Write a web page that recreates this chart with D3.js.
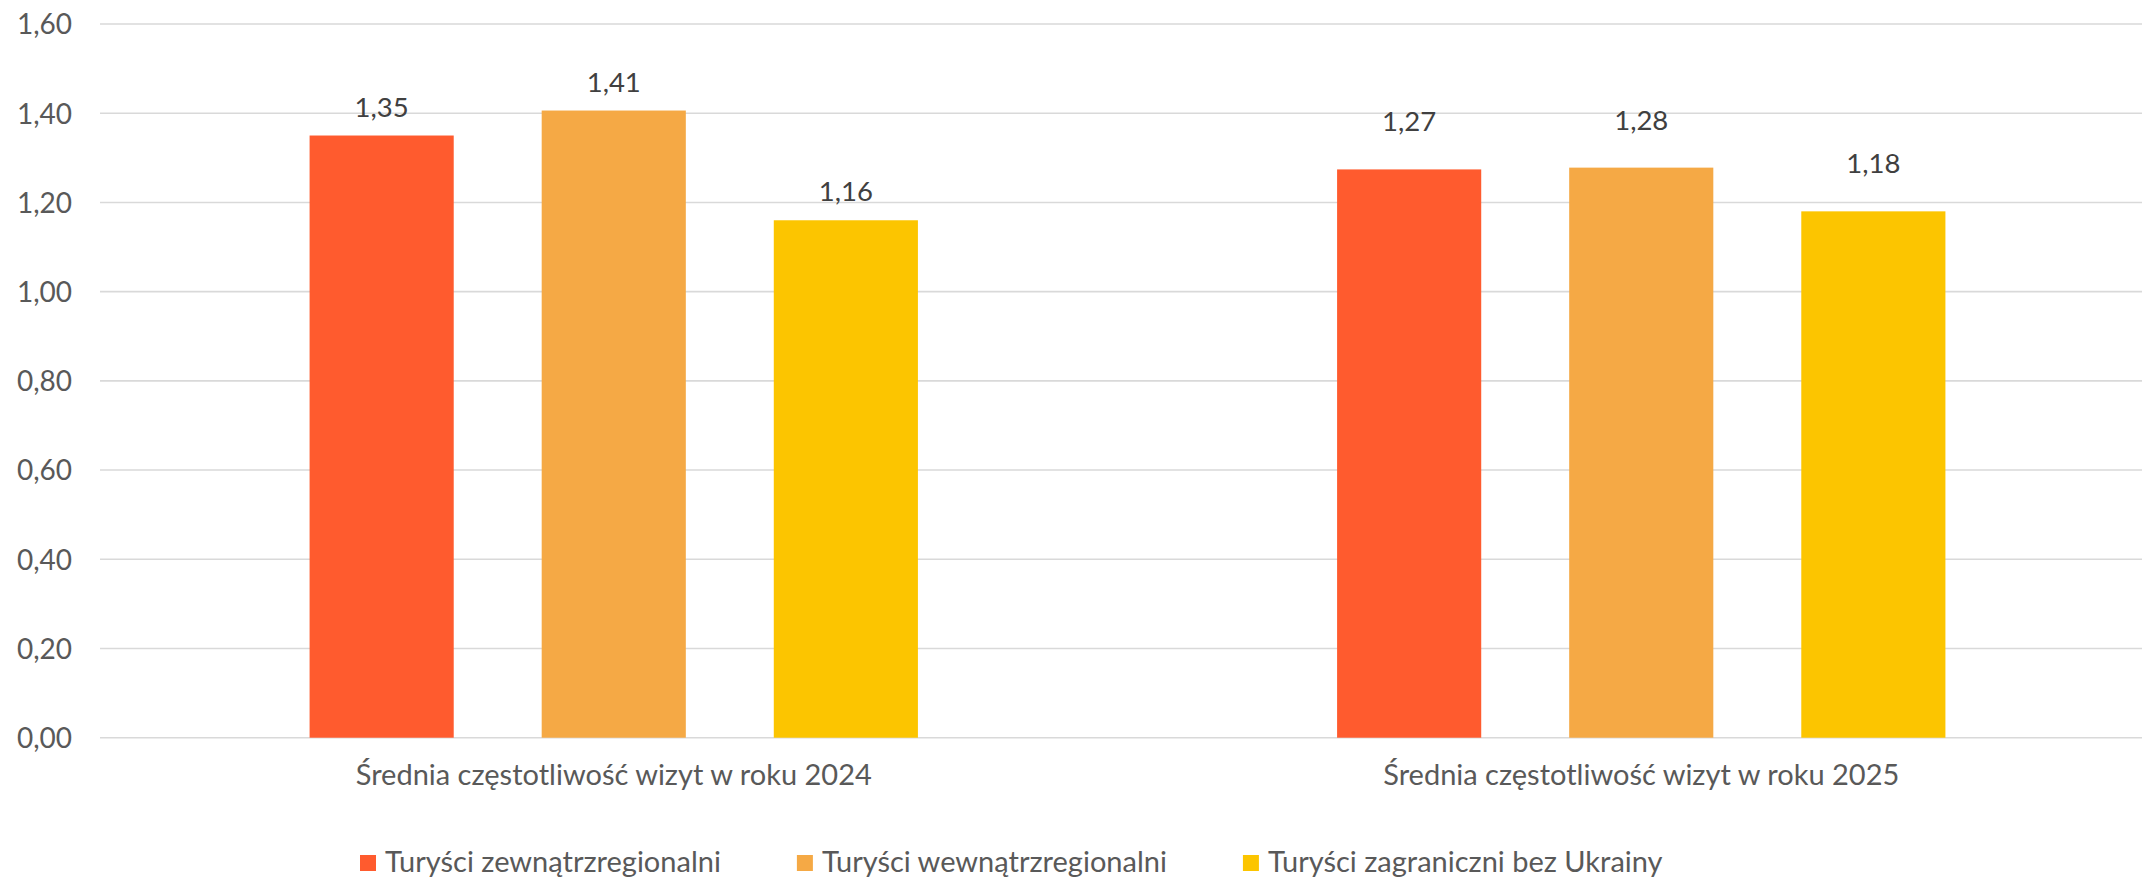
<!DOCTYPE html>
<html><head><meta charset="utf-8">
<script src="https://cdn.jsdelivr.net/npm/d3@7"></script>
<style>
html,body{margin:0;padding:0;background:#fff;}
svg{display:block;font-family:Lato,"Open Sans",sans-serif;}
</style></head>
<body>
<svg id="chart" width="2142" height="879"></svg>
<script>
const categories = ["Średnia częstotliwość wizyt w roku 2024", "Średnia częstotliwość wizyt w roku 2025"];
const seriesNames = ["Turyści zewnątrzregionalni", "Turyści wewnątrzregionalni", "Turyści zagraniczni bez Ukrainy"];
const values2024 = [1.35, 1.406, 1.16];
const values2025 = [1.274, 1.278, 1.18];
const yTicks = [0, 0.2, 0.4, 0.6, 0.8, 1.0, 1.2, 1.4, 1.6];

const colors = ["#FF5B2E", "#F5A945", "#FCC500"];
const labelOffsets = [19, 38];

const svg = d3.select("#chart");
const W = 2142;
const y = d3.scaleLinear().domain([0, 1.6]).range([737.7, 24]);
const x0 = d3.scaleBand().domain(categories).range([100, 2155]).padding(0);
const x1 = d3.scaleBand().domain(seriesNames).range([0, x0.bandwidth()]).paddingInner(0.379).paddingOuter(0.903);
const fmt = v => d3.format(".2f")(v).replace(".", ",");

// gridlines
svg.append("g").selectAll("line").data(yTicks).join("line")
  .attr("x1", 100).attr("x2", W)
  .attr("y1", d => y(d)).attr("y2", d => y(d))
  .attr("stroke", "#D9D9D9").attr("stroke-width", 1.6);

// y axis labels
const yAxis = d3.axisLeft(y).tickValues(yTicks).tickSize(0).tickPadding(0).tickFormat(fmt);
const gy = svg.append("g").attr("transform", "translate(72,0)").call(yAxis);
gy.select(".domain").remove();
gy.selectAll("text").attr("font-size", 28).attr("fill", "#595959")
  .attr("font-family", "Lato").attr("dy", "0.35em");

const data = [values2024, values2025];
const groups = svg.append("g").selectAll("g").data(categories).join("g")
  .attr("transform", c => `translate(${x0(c)},0)`);

groups.each(function(c, gi) {
  const g = d3.select(this);
  const vals = data[gi];
  g.selectAll("rect").data(seriesNames).join("rect")
    .attr("x", s => x1(s)).attr("width", x1.bandwidth())
    .attr("y", (s, i) => y(vals[i])).attr("height", (s, i) => y(0) - y(vals[i]))
    .attr("fill", (s, i) => colors[i]);
  g.selectAll("text").data(seriesNames).join("text")
    .attr("x", s => x1(s) + x1.bandwidth() / 2)
    .attr("y", (s, i) => y(vals[i]) - labelOffsets[gi])
    .attr("text-anchor", "middle").attr("font-size", 27.5).attr("fill", "#404040")
    .text((s, i) => fmt(vals[i]));
});

// category labels
const xAxis = d3.axisBottom(x0).tickSize(0).tickPadding(0);
const gx = svg.append("g").attr("transform", "translate(0,785)").call(xAxis);
gx.select(".domain").remove();
gx.selectAll("text").attr("font-size", 29).attr("fill", "#595959")
  .attr("font-family", "Lato").attr("dy", 0);

// legend
const legend = svg.append("g").attr("transform", "translate(360,0)");
let lx = 0;
seriesNames.forEach((s, i) => {
  legend.append("rect").attr("x", lx).attr("y", 855).attr("width", 16).attr("height", 16).attr("fill", colors[i]);
  const t = legend.append("text").attr("x", lx + 25).attr("y", 872)
    .attr("font-size", 29).attr("fill", "#595959").text(s);
  lx += 25 + t.node().getComputedTextLength() + 76;
});
</script>
</body></html>
